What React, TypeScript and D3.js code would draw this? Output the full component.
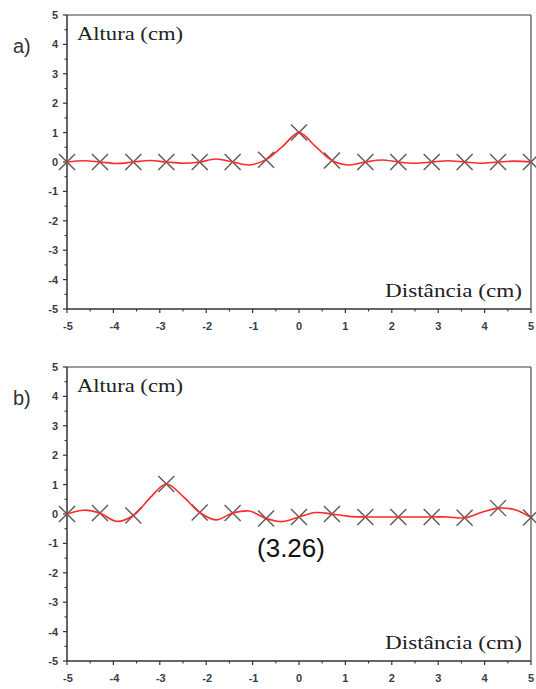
import React from "react";
import * as d3 from "d3";

const ticks = [-5, -4, -3, -2, -1, 0, 1, 2, 3, 4, 5];
const minorTicks = [-4.5, -3.5, -2.5, -1.5, -0.5, 0.5, 1.5, 2.5, 3.5, 4.5];

const markerX = [-5, -4.29, -3.57, -2.86, -2.14, -1.43, -0.71, 0, 0.71, 1.43, 2.14, 2.86, 3.57, 4.29, 5];
const markerYa = [0, 0, 0, 0, 0, 0, 0.08, 1.0, 0.05, 0, 0, 0, 0, 0, 0];
const markerYb = [0, 0.03, -0.05, 1.02, 0.05, 0.03, -0.15, -0.1, 0, -0.1, -0.1, -0.1, -0.13, 0.2, -0.12];

const curveX = [-5, -4.64, -4.29, -3.93, -3.57, -3.21, -2.86, -2.5, -2.14, -1.79, -1.43, -1.07, -0.71, -0.36, 0, 0.36, 0.71, 1.07, 1.43, 1.79, 2.14, 2.5, 2.86, 3.21, 3.57, 3.93, 4.29, 4.64, 5];
const curveYa = [0, 0.04, 0, -0.05, 0, 0.05, 0, -0.04, 0, 0.1, 0, -0.1, 0.08, 0.52, 1.0, 0.52, 0.05, -0.1, 0, 0.07, 0, -0.04, 0, 0.04, 0, -0.04, 0, 0.03, 0];
const curveYb = [0, 0.13, 0.03, -0.25, -0.05, 0.55, 1.02, 0.6, 0.05, -0.2, 0.03, 0.1, -0.15, -0.26, -0.1, 0.05, 0, -0.08, -0.1, -0.1, -0.1, -0.1, -0.1, -0.1, -0.13, 0.05, 0.2, 0.15, -0.12];

const LEFT = 67;
const RIGHT = 531;

type PanelProps = {
  top: number;
  bottom: number;
  label: string;
  markerY: number[];
  curveY: number[];
};

function Panel({ top, bottom, label, markerY, curveY }: PanelProps) {
  const x = d3.scaleLinear().domain([-5, 5]).range([LEFT, RIGHT]);
  const y = d3.scaleLinear().domain([-5, 5]).range([bottom, top]);
  const line = d3
    .line<number>()
    .x((_, i) => x(curveX[i]))
    .y((d) => y(d))
    .curve(d3.curveCatmullRom.alpha(0.5));
  const ms = 8;
  return (
    <g>
      {/* frame */}
      <line x1={LEFT} x2={RIGHT} y1={top} y2={top} stroke="#7a7a7a" strokeWidth={1.6} />
      <line x1={RIGHT} x2={RIGHT} y1={top} y2={bottom} stroke="#7a7a7a" strokeWidth={1.6} />
      <line x1={LEFT} x2={LEFT} y1={top} y2={bottom} stroke="#333" strokeWidth={1.5} />
      <line x1={LEFT} x2={RIGHT} y1={bottom} y2={bottom} stroke="#333" strokeWidth={1.5} />
      {/* y ticks */}
      {ticks.map((t) => (
        <g key={"y" + t}>
          <line x1={LEFT - 4} x2={LEFT} y1={y(t)} y2={y(t)} stroke="#333" strokeWidth={1.2} />
          <text
            x={LEFT - 9}
            y={y(t)}
            dy="0.36em"
            textAnchor="end"
            fontFamily="Liberation Sans, Arial, sans-serif"
            fontWeight="bold"
            fontSize={11}
            fill="#3a3a4a"
          >
            {t}
          </text>
        </g>
      ))}
      {minorTicks.map((t) => (
        <line key={"ym" + t} x1={LEFT - 2.5} x2={LEFT} y1={y(t)} y2={y(t)} stroke="#333" strokeWidth={1.1} />
      ))}
      {/* x ticks */}
      {ticks.map((t) => (
        <g key={"x" + t}>
          <line x1={x(t)} x2={x(t)} y1={bottom} y2={bottom + 4} stroke="#333" strokeWidth={1.2} />
          <text
            x={x(t) + (t < 0 ? 1 : 0)}
            y={bottom + 21}
            textAnchor="middle"
            fontFamily="Liberation Sans, Arial, sans-serif"
            fontWeight="bold"
            fontSize={11}
            fill="#3a3a4a"
          >
            {t}
          </text>
        </g>
      ))}
      {minorTicks.map((t) => (
        <line key={"xm" + t} x1={x(t)} x2={x(t)} y1={bottom} y2={bottom + 2.5} stroke="#333" strokeWidth={1.1} />
      ))}
      {/* markers */}
      {markerX.map((mx, i) => {
        const cx = x(mx);
        const cy = y(markerY[i]);
        return (
          <g key={"m" + i} stroke="#5a5a5a" strokeWidth={1.4}>
            <line x1={cx - ms} y1={cy - ms} x2={cx + ms} y2={cy + ms} />
            <line x1={cx - ms} y1={cy + ms} x2={cx + ms} y2={cy - ms} />
          </g>
        );
      })}
      {/* curve */}
      <path d={line(curveY) || ""} fill="none" stroke="#ff2a2a" strokeWidth={1.6} />
      {/* labels */}
      <text
        x={77}
        y={top + 25}
        fontFamily="Liberation Serif, Times New Roman, serif"
        fontSize={18}
        textLength={106}
        lengthAdjust="spacingAndGlyphs"
        fill="#222"
      >
        Altura (cm)
      </text>
      <text
        x={385}
        y={bottom - 12}
        fontFamily="Liberation Serif, Times New Roman, serif"
        fontSize={18}
        textLength={137}
        lengthAdjust="spacingAndGlyphs"
        fill="#222"
      >
        Distância (cm)
      </text>
      <text
        x={13}
        y={top + 38}
        fontFamily="Liberation Sans, Arial, sans-serif"
        fontSize={20}
        fill="#333"
      >
        {label}
      </text>
    </g>
  );
}

export default function App() {
  return (
    <svg
      width={536}
      height={689}
      style={{ position: "absolute", left: 0, top: 0, background: "#fff" }}
    >
      <rect x={0} y={0} width={536} height={689} fill="#fff" />
      <Panel top={15} bottom={309} label="a)" markerY={markerYa} curveY={curveYa} />
      <Panel top={367} bottom={661} label="b)" markerY={markerYb} curveY={curveYb} />
      <text
        x={291}
        y={557}
        textAnchor="middle"
        fontFamily="Liberation Sans, Arial, sans-serif"
        fontSize={26}
        fill="#111"
      >
        (3.26)
      </text>
    </svg>
  );
}
